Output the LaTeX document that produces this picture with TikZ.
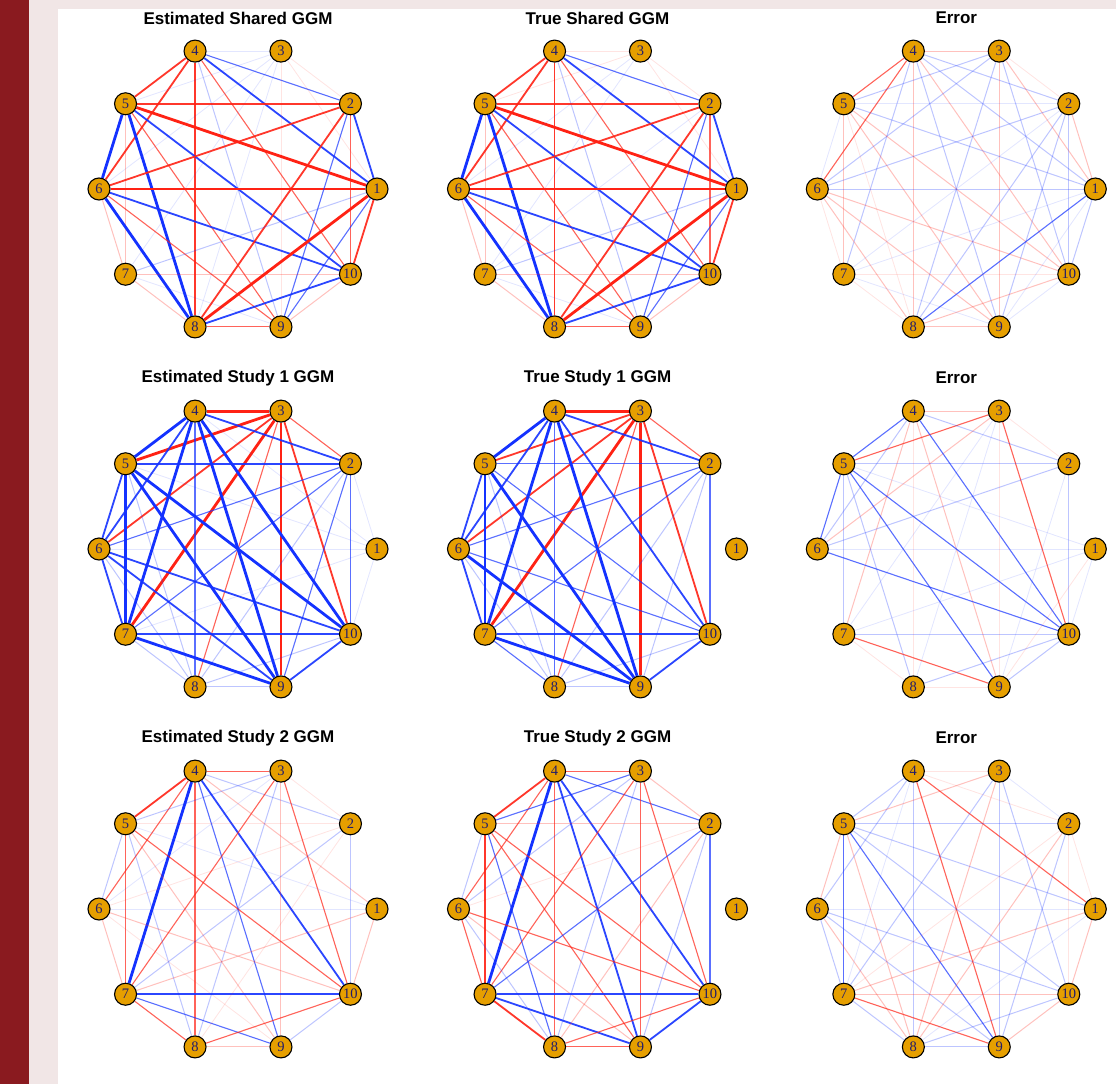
\documentclass[tikz,border=0pt]{standalone}
\usepackage{fontspec}
\usepackage{xcolor}
\usepackage{tikz}
\setmainfont{Liberation Serif}
\newfontfamily\titlefont{Liberation Sans}
\definecolor{ggmred}{HTML}{FF2214}
\definecolor{ggmblue}{HTML}{1432FF}
\definecolor{vtxfill}{HTML}{E69F00}
\definecolor{vtxtext}{HTML}{221C6A}
\definecolor{bandred}{HTML}{8A1A1F}
\definecolor{bandpink}{HTML}{F1E6E6}
\pgfdeclarelayer{bglayer}
\pgfdeclarelayer{edgelayer}
\pgfsetlayers{bglayer,edgelayer,main}
\tikzset{
    vertex/.style={circle, draw=black, line width=1.1pt, fill=vtxfill, minimum size=22pt,
        inner sep=0pt, text=vtxtext, font=\fontsize{14.5}{14.5}\selectfont},
    paneltitle/.style={font=\titlefont\bfseries\fontsize{17}{17}\selectfont},
    rA/.style={ggmred, line width=2.8pt},
    rB/.style={ggmred, line width=1.8pt, opacity=0.9},
    rC/.style={ggmred, line width=1.1pt, opacity=0.7},
    rD/.style={ggmred, line width=1pt, opacity=0.28},
    rE/.style={ggmred, line width=0.8pt, opacity=0.12},
    bA/.style={ggmblue, line width=2.8pt},
    bB/.style={ggmblue, line width=1.8pt, opacity=0.9},
    bC/.style={ggmblue, line width=1.1pt, opacity=0.7},
    bD/.style={ggmblue, line width=1pt, opacity=0.28},
    bE/.style={ggmblue, line width=0.8pt, opacity=0.12}
}
% one panel: name, centre x, centre y, title, edges
\newcommand{\ggmpanel}[5]{%
    \node[paneltitle] (#1-title) at (#2,#3-171) {#4};
    \foreach \i in {1,...,10}
        \node[vertex] (#1-\i) at ({#2+139*cos((\i-1)*36)},{#3-145*sin((\i-1)*36)}) {\i};
    \begin{pgfonlayer}{edgelayer}
        \foreach \a/\b/\s in {#5}
            \draw[\s] (#1-\a) -- (#1-\b);
    \end{pgfonlayer}
}

\begin{document}
\begin{tikzpicture}[x=1pt, y=-1pt]
    \useasboundingbox (0,0) rectangle (1116,1084);
    \begin{pgfonlayer}{bglayer}
        \fill[white] (0,0) rectangle (1116,1084);
        \fill[bandpink] (0,0) rectangle (1116,9);
        \fill[bandpink] (0,0) rectangle (58,1084);
        \fill[bandred] (0,0) rectangle (29,1084);
    \end{pgfonlayer}

    \ggmpanel{es}{238}{189}{Estimated Shared GGM}{4/5/rB, 4/6/rB, 4/8/rB, 4/2/bC, 4/1/bB, 4/9/bD,
        4/10/rC, 4/3/bE, 3/5/bE, 3/7/bE, 3/2/rE, 3/1/rE, 3/9/rE, 3/8/bE, 3/6/bE, 5/2/rB, 5/1/rA,
        5/6/bA, 5/8/bA, 5/10/bB, 5/9/rC, 5/7/rD, 6/2/rB, 6/1/rA, 6/10/bB, 6/8/bA, 6/9/rC, 6/7/rD,
        2/1/bB, 2/8/rB, 2/9/bC, 2/10/rC, 1/8/rA, 1/10/rB, 1/9/bC, 1/7/bD, 10/8/bB, 10/9/rD,
        10/7/rD, 8/9/rC, 7/8/rD, 7/9/bE}
    \ggmpanel{ts}{597.5}{189}{True Shared GGM}{4/5/rB, 4/6/rB, 4/8/rB, 4/2/bC, 4/1/bB, 4/9/bD,
        4/10/rC, 4/3/rE, 3/5/rE, 3/7/bE, 3/1/rE, 3/2/rE, 5/2/rB, 5/1/rA, 5/6/bA, 5/8/bA, 5/10/bB,
        5/9/rC, 5/7/rD, 6/2/rB, 6/1/rA, 6/10/bB, 6/8/bA, 6/9/rC, 6/7/rD, 6/3/bE, 2/1/bB, 2/8/rB,
        2/9/bC, 2/10/rC, 2/7/bE, 1/8/rA, 1/10/rB, 1/9/bC, 1/7/bD, 10/8/bB, 10/9/rD, 10/7/rD,
        8/9/rC, 7/8/rD, 7/9/bE}
    \ggmpanel{xs}{956.3}{189}{Error}{4/3/rD, 4/5/rC, 4/6/rC, 4/8/rD, 4/2/bD, 4/1/bD, 4/9/bD,
        4/10/rD, 4/7/bD, 3/5/bD, 3/6/bD, 3/2/rE, 3/1/rD, 3/8/bD, 3/9/rD, 3/10/bD, 5/2/bE, 5/1/bD,
        5/10/rD, 5/9/rD, 5/7/rD, 5/8/rE, 6/1/bD, 6/2/bD, 6/10/rD, 6/8/rD, 6/9/rD, 6/7/rE, 6/5/bE,
        2/1/rD, 2/10/bD, 2/8/bD, 2/9/bD, 2/7/bE, 1/8/bC, 1/10/bD, 1/7/bE, 1/9/bE, 10/8/rD,
        10/7/rE, 10/9/bE, 8/9/rD, 7/8/rE, 7/9/bE}

    \ggmpanel{e1}{238}{549}{Estimated Study 1 GGM}{4/3/rA, 3/5/rA, 3/6/rB, 3/7/rA, 3/8/rC, 3/9/rA,
        3/10/rB, 3/2/rC, 4/5/bA, 4/6/bB, 4/7/bA, 4/8/bC, 4/9/bA, 4/10/bA, 4/2/bB, 4/1/bE, 5/2/bB,
        5/6/bB, 5/7/bA, 5/8/bD, 5/9/bA, 5/10/bA, 5/1/bE, 6/2/bC, 6/7/bB, 6/8/bD, 6/9/bB, 6/10/bB,
        6/1/bE, 7/2/bC, 7/10/bB, 7/9/bA, 7/8/bD, 2/10/bC, 2/9/bC, 2/8/bD, 10/9/bB, 10/8/bD,
        8/9/bD, 2/1/bE, 1/10/bE, 1/7/bE}
    \ggmpanel{t1}{597.5}{549}{True Study 1 GGM}{4/3/rA, 3/5/rB, 3/6/rB, 3/7/rA, 3/8/rC, 3/9/rA,
        3/10/rB, 3/2/rC, 4/5/bA, 4/6/bB, 4/7/bA, 4/8/bC, 4/9/bA, 4/10/bB, 4/2/bB, 5/2/bC, 5/6/bB,
        5/7/bA, 5/8/bD, 5/9/bA, 5/10/bC, 6/2/bC, 6/7/bB, 6/8/bD, 6/9/bA, 6/10/bC, 7/2/bC,
        7/10/bB, 7/9/bA, 7/8/bC, 2/10/bC, 2/9/bD, 2/8/bD, 10/9/bB, 10/8/bD, 8/9/bD}
    \ggmpanel{x1}{956.3}{549}{Error}{4/3/rD, 3/5/rC, 3/6/rD, 3/10/rC, 3/2/rE, 4/5/bC, 4/6/bD,
        4/10/bC, 4/9/rD, 4/7/rD, 4/2/bD, 4/8/rE, 5/2/bD, 5/6/bC, 5/7/bD, 5/10/bC, 5/9/bC, 5/8/bD,
        5/1/bE, 6/10/bC, 6/2/bD, 6/1/bE, 7/10/bD, 7/9/rC, 7/8/rE, 2/10/bD, 10/9/bD, 10/8/bD,
        8/9/rE, 3/9/rE, 3/8/bE, 3/7/bE, 1/7/bE, 1/9/rE, 2/9/bE, 1/10/bE}

    \ggmpanel{e2}{238}{909}{Estimated Study 2 GGM}{4/3/rC, 4/5/rB, 4/6/rC, 4/7/bA, 4/8/rC, 4/9/bC,
        4/10/bB, 4/2/bD, 4/1/rD, 3/5/bD, 3/7/rC, 3/10/rC, 3/9/rD, 3/8/bD, 3/2/rE, 5/7/rC, 5/10/rC,
        5/9/rD, 5/8/bD, 5/2/rE, 5/1/bE, 6/5/bD, 6/7/rD, 6/10/rD, 6/9/rE, 6/2/rE, 6/1/bE, 6/3/bE,
        7/10/bB, 7/9/bC, 7/8/rC, 7/2/bD, 7/1/rD, 2/10/bD, 2/8/rE, 1/10/rD, 10/8/rC, 10/9/bD,
        8/9/rD}
    \ggmpanel{t2}{597.5}{909}{True Study 2 GGM}{4/3/rC, 4/5/rB, 4/6/rC, 4/7/bA, 4/8/rC, 4/9/bB,
        4/10/bB, 4/2/bC, 3/5/bC, 3/6/bD, 3/7/rC, 3/8/bD, 3/9/rC, 3/10/rC, 3/2/rD, 5/7/rB, 5/10/rC,
        5/9/rC, 5/8/bC, 5/6/bD, 5/2/rD, 6/2/rE, 6/10/rC, 6/9/rD, 6/8/bD, 6/7/rC, 7/10/bB, 7/9/bB,
        7/8/rB, 7/2/bC, 2/10/bC, 2/8/rD, 2/9/bD, 10/8/rC, 10/9/bB, 8/9/rC}
    \ggmpanel{x2}{956.3}{909}{Error}{4/3/rE, 4/5/bD, 4/6/bD, 4/8/bD, 4/9/rC, 4/1/rC, 4/2/rE,
        4/7/bE, 3/5/rD, 3/7/bD, 3/9/bD, 3/10/bD, 3/8/rD, 3/2/bE, 5/2/bD, 5/7/bC, 5/9/bC, 5/10/bD,
        5/1/bD, 5/8/rD, 5/6/rD, 6/7/bD, 6/9/bD, 6/10/bD, 6/8/rD, 6/1/bE, 7/1/rD, 7/10/rD, 7/9/rC,
        7/8/bD, 7/2/rE, 2/8/rD, 2/9/bD, 2/10/rE, 2/1/rE, 1/10/rD, 1/8/bE, 10/9/rD, 10/8/bD,
        8/9/bD}
\end{tikzpicture}
\end{document}
